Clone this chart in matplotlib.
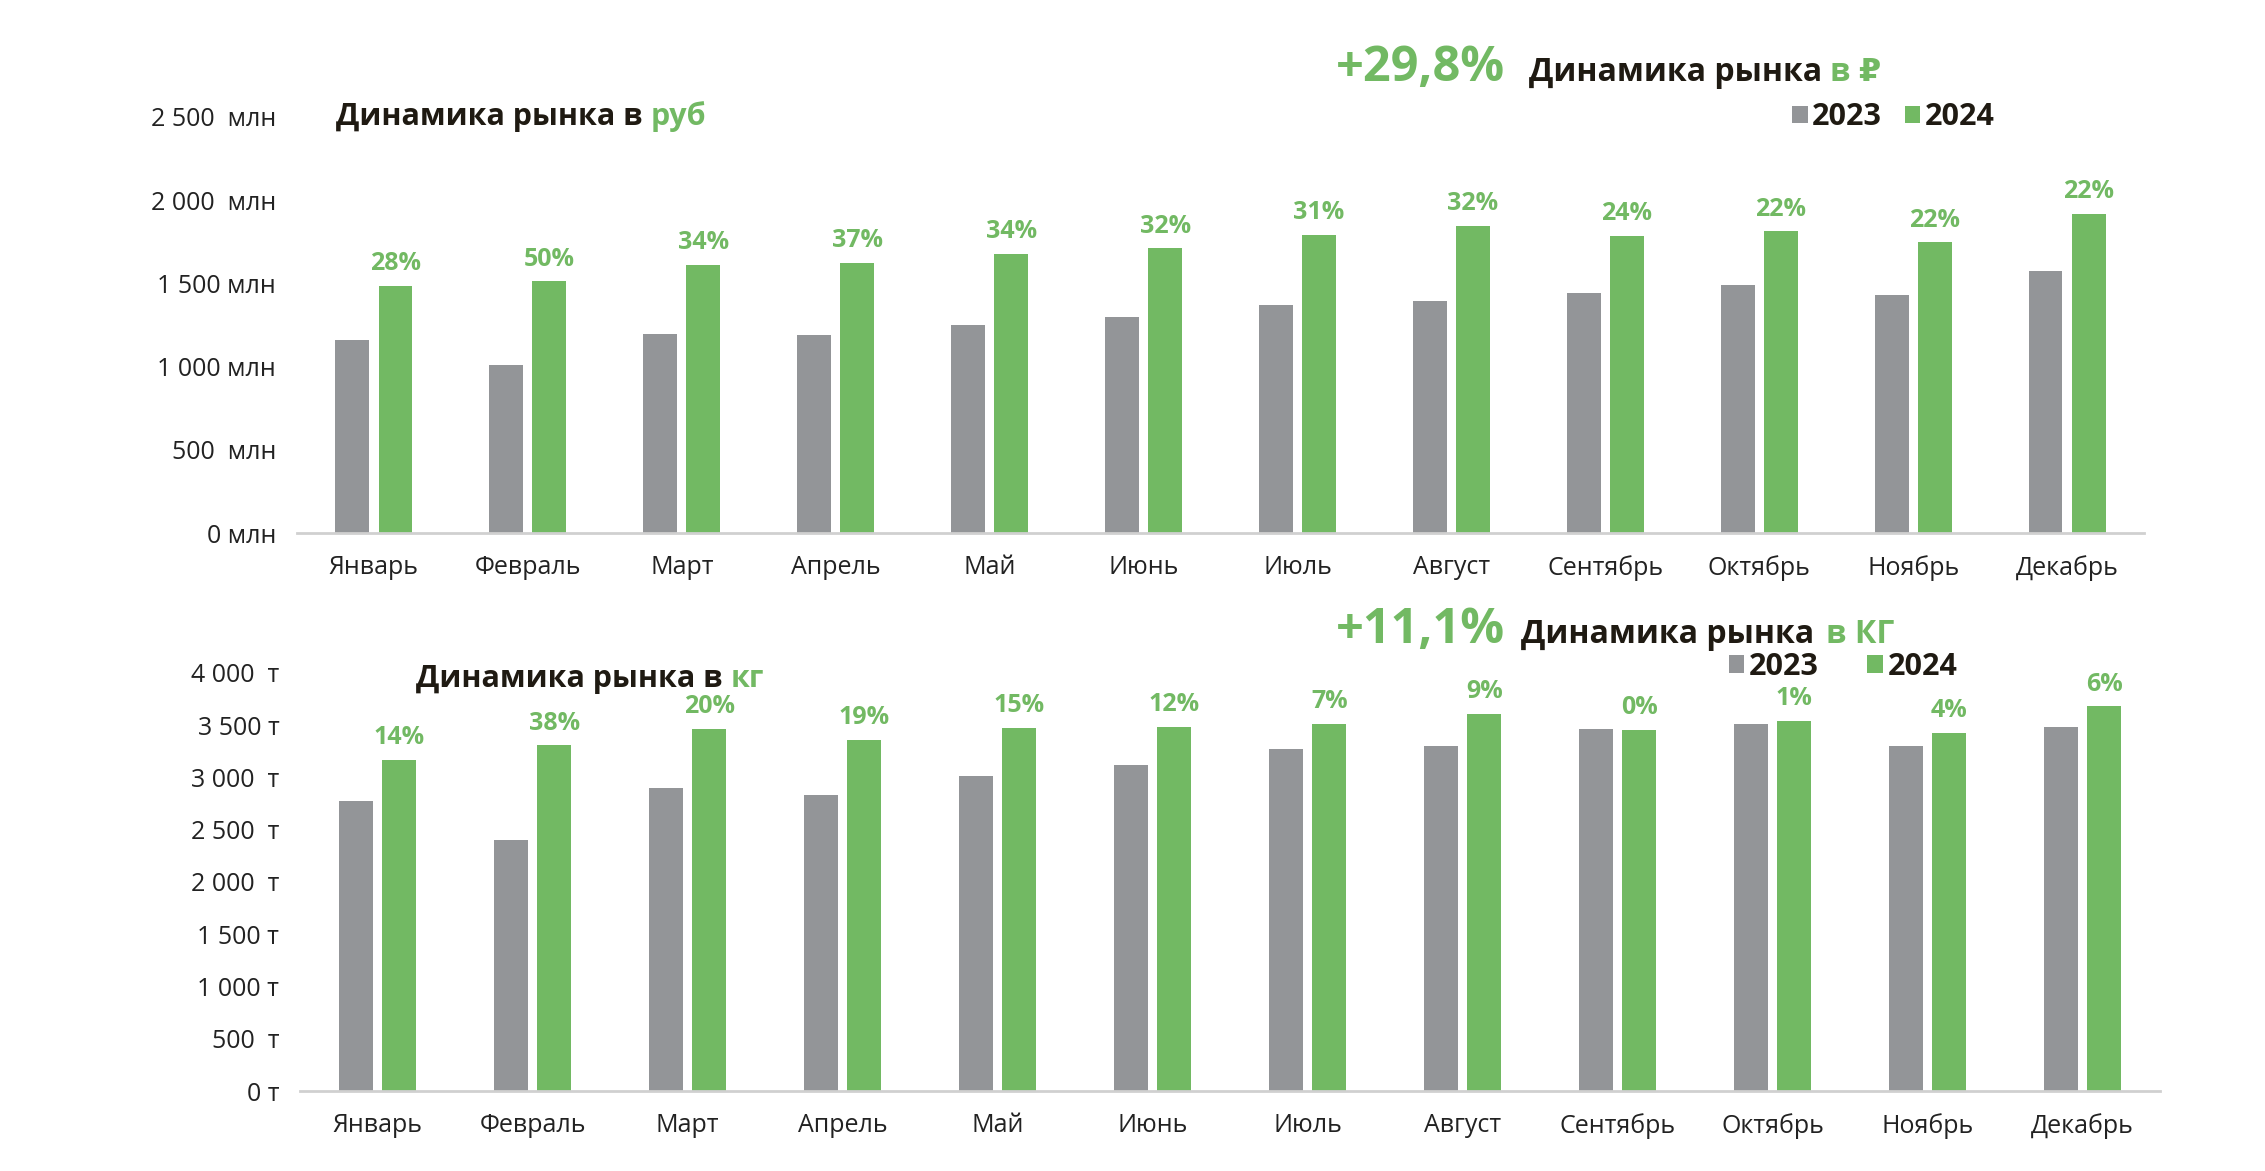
import numpy as np
import matplotlib
matplotlib.use('Agg')
import matplotlib.pyplot as plt

plt.rcParams['font.family'] = ['Open Sans', 'DejaVu Sans']

# Data
months = ['Январь', 'Февраль', 'Март', 'Апрель', 'Май', 'Июнь',
          'Июль', 'Август', 'Сентябрь', 'Октябрь', 'Ноябрь', 'Декабрь']
years = ['2023', '2024']

rub_2023 = [1161, 1011, 1198, 1189, 1253, 1299, 1369, 1396, 1443, 1489, 1431, 1576]
rub_2024 = [1486, 1512, 1611, 1622, 1676, 1710, 1791, 1846, 1784, 1812, 1747, 1918]
rub_growth = ['28%', '50%', '34%', '37%', '34%', '32%', '31%', '32%', '24%', '22%', '22%', '22%']
rub_total = '+29,8%'
rub_ticks = [0, 500, 1000, 1500, 2000, 2500]
rub_ticklabels = ['0 млн', '500  млн', '1 000 млн', '1 500 млн', '2 000  млн', '2 500  млн']

kg_2023 = [2772, 2402, 2902, 2833, 3018, 3116, 3268, 3301, 3467, 3514, 3301, 3485]
kg_2024 = [3170, 3308, 3464, 3359, 3474, 3485, 3514, 3612, 3456, 3540, 3427, 3681]
kg_growth = ['14%', '38%', '20%', '19%', '15%', '12%', '7%', '9%', '0%', '1%', '4%', '6%']
kg_total = '+11,1%'
kg_ticks = [0, 500, 1000, 1500, 2000, 2500, 3000, 3500, 4000]
kg_ticklabels = ['0 т', '500  т', '1 000 т', '1 500 т', '2 000  т', '2 500  т', '3 000  т', '3 500 т', '4 000  т']

# Colours
GRAY = '#939598'
GREEN = '#72b963'
DARK = '#1f1a12'
TEXT = '#222222'

fig = plt.figure(figsize=(22.65, 11.71), dpi=100)
fig.patch.set_facecolor('white')


def draw_panel(ax, v23, v24, growth, ticks, ticklabels):
    x = np.arange(len(months))
    w = 0.22
    off = 0.14
    b1 = ax.bar(x - off, v23, w, color=GRAY, label=years[0])
    b2 = ax.bar(x + off, v24, w, color=GREEN, label=years[1])
    for rect, g in zip(b2, growth):
        ax.annotate(g, (rect.get_x() + rect.get_width() / 2, rect.get_height()),
                    xytext=(0, 16), textcoords='offset points', ha='center', va='center',
                    color=GREEN, fontweight='bold', fontsize=18)
    ax.set_xlim(-0.5, len(months) - 0.5)
    ax.set_ylim(0, ticks[-1])
    ax.set_yticks(ticks)
    ax.set_yticklabels(ticklabels)
    ax.set_xticks(x)
    ax.set_xticklabels(months)
    for s in ['top', 'right', 'left']:
        ax.spines[s].set_visible(False)
    ax.spines['bottom'].set_color('#d0d0d0')
    ax.spines['bottom'].set_linewidth(2)
    ax.tick_params(axis='both', length=0, labelsize=18, colors=TEXT)
    ax.tick_params(axis='y', pad=15)
    ax.tick_params(axis='x', pad=16)
    return b1, b2


def mixed_text(x, y, parts):
    # parts: (text, colour, size, gap in px after it), drawn one after another
    fig.canvas.draw()
    r = fig.canvas.get_renderer()
    cur = x
    for txt, col, size, gap in parts:
        t = fig.text(cur, y, txt, color=col, fontsize=size, fontweight='bold', va='baseline', ha='left')
        ext = t.get_window_extent(renderer=r)
        cur = (ext.x1 + gap) / fig.bbox.width


# Top: money
ax1 = fig.add_axes([0.1311, 0.5448, 0.8155, 0.3553])
h1 = draw_panel(ax1, rub_2023, rub_2024, rub_growth, rub_ticks, rub_ticklabels)

# Bottom: weight
ax2 = fig.add_axes([0.1325, 0.0683, 0.8211, 0.3570])
h2 = draw_panel(ax2, kg_2023, kg_2024, kg_growth, kg_ticks, kg_ticklabels)

# Legends
leg_kw = dict(frameon=False, ncol=2, handlelength=0.5, handleheight=0.5,
              handletextpad=0.15, prop={'weight': 'bold', 'size': 22}, labelcolor=DARK)
fig.legend(h1, years, loc='center', bbox_to_anchor=(0.836, 0.900), columnspacing=0.75, **leg_kw)
fig.legend(h2, years, loc='center', bbox_to_anchor=(0.8137, 0.4304), columnspacing=1.6, **leg_kw)

# Titles
mixed_text(0.1483, 0.8933, [('Динамика рынка в', DARK, 22, 8), ('руб', GREEN, 22, 0)])
mixed_text(0.1837, 0.4135, [('Динамика рынка в', DARK, 22, 8), ('кг', GREEN, 22, 0)])

mixed_text(0.5898, 0.9308, [(rub_total, GREEN, 35, 24), ('Динамика рынка', DARK, 23, 8), ('в ₽', GREEN, 23, 0)])
mixed_text(0.5898, 0.4509, [(kg_total, GREEN, 35, 16), ('Динамика рынка', DARK, 23, 12), ('в КГ', GREEN, 23, 0)])

fig.savefig('out.png', dpi=100, facecolor='white')
